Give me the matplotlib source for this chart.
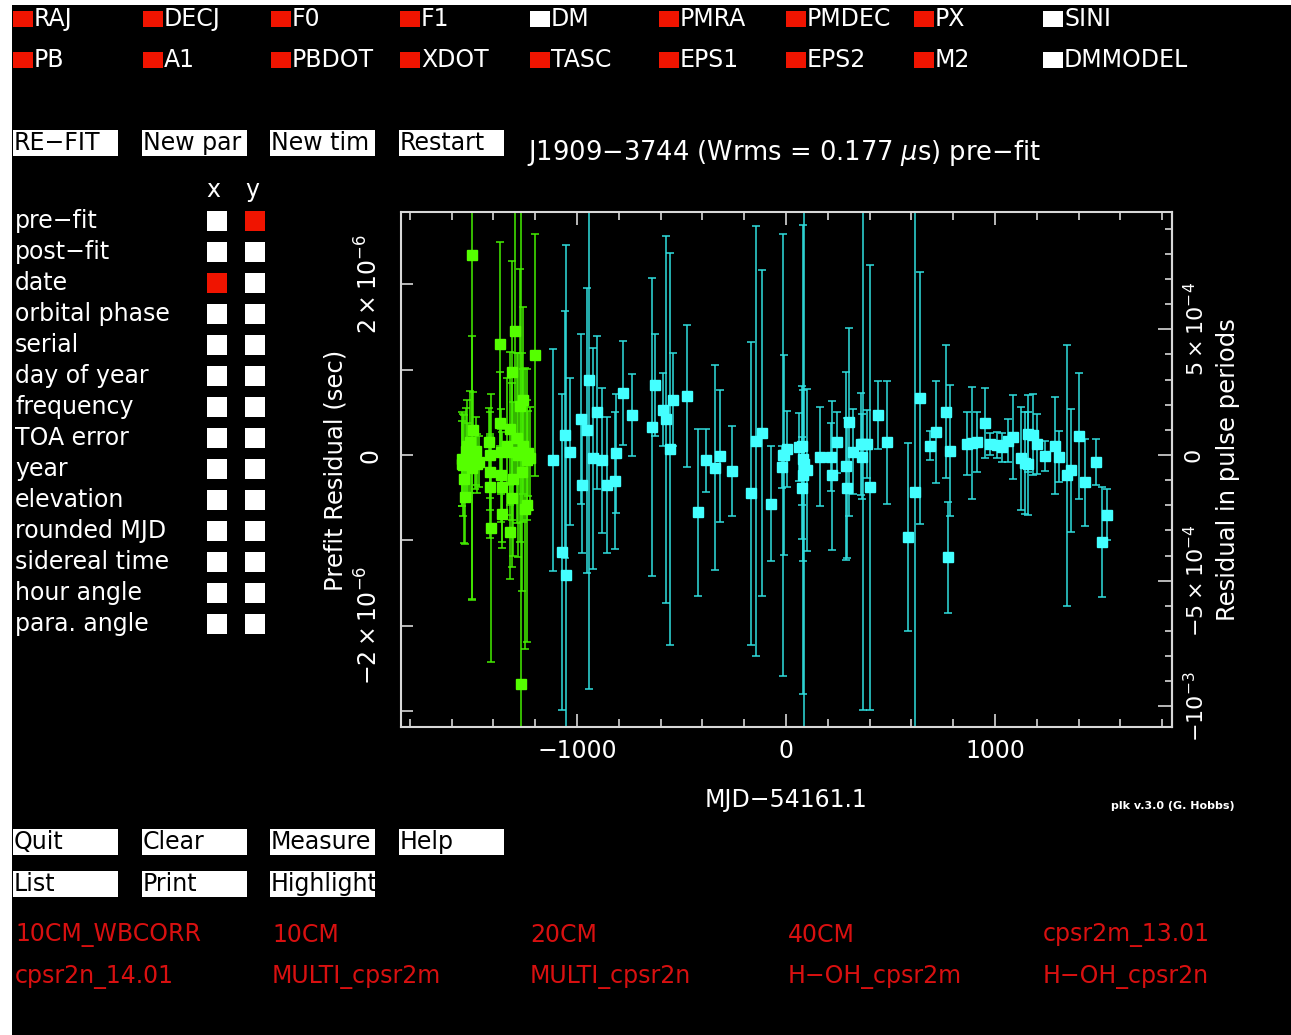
import matplotlib
matplotlib.use('Agg')
import matplotlib.pyplot as plt
from matplotlib.patches import Rectangle
from matplotlib.ticker import FixedLocator, MultipleLocator
import numpy as np

# ---------------------------------------------------------------- data

# fit parameters (1 = fitted, red box; 0 = not fitted, white box)
params_row1 = ['RAJ', 'DECJ', 'F0', 'F1', 'DM', 'PMRA', 'PMDEC', 'PX', 'SINI']
fit_row1 = [1, 1, 1, 1, 0, 1, 1, 1, 0]
params_row2 = ['PB', 'A1', 'PBDOT', 'XDOT', 'TASC', 'EPS1', 'EPS2', 'M2', 'DMMODEL']
fit_row2 = [1, 1, 1, 1, 1, 1, 1, 1, 0]

plot_opts = ['pre−fit', 'post−fit', 'date', 'orbital phase', 'serial', 'day of year',
             'frequency', 'TOA error', 'year', 'elevation', 'rounded MJD',
             'sidereal time', 'hour angle', 'para. angle']
x_choice = 'date'
y_choice = 'pre−fit'

top_buttons = ['RE−FIT', 'New par', 'New tim', 'Restart']
bottom_buttons1 = ['Quit', 'Clear', 'Measure', 'Help']
bottom_buttons2 = ['List', 'Print', 'Highlight']

flags_row1 = ['10CM_WBCORR', '10CM', '20CM', '40CM', 'cpsr2m_13.01']
flags_row2 = ['cpsr2n_14.01', 'MULTI_cpsr2m', 'MULTI_cpsr2n', 'H−OH_cpsr2m', 'H−OH_cpsr2n']

P0 = 0.00294710806   # pulse period (s)

# green group: MJD-54161.1, residual (us), error (us)
g_mjd = [-1552, -1548, -1544, -1540, -1536, -1532, -1528, -1520, -1512, -1504, -1500, -1496,
         -1490, -1484, -1478, -1470, -1420, -1418, -1416, -1414, -1412, -1368, -1366, -1364,
         -1362, -1360, -1358, -1336, -1321, -1321, -1313, -1313, -1313, -1305, -1297, -1289,
         -1281, -1273, -1270, -1265, -1257, -1257, -1249, -1241, -1241, -1233, -1225, -1201]
g_res = [-0.10, -0.05, -0.12, -0.28, -0.49, 0.05, 0.10, -0.08, 0.15, 2.35, -0.15, 0.29,
         -0.05, 0.05, -0.10, -0.08, 0.15, 0.00, -0.20, -0.375, -0.86, 1.30, 0.375, 0.04,
         -0.24, -0.375, -0.69, 0.10, 0.31, -0.90, 0.97, 0.04, -0.51, -0.28, 1.46, 0.20,
         0.00, 0.58, -2.68, -0.20, 0.64, 0.11, -0.63, -0.06, -0.59, 0.02, -0.04, 1.17]
g_err = [0.50, 0.55, 0.60, 0.75, 0.55, 0.50, 0.55, 0.45, 0.60, 4.04, 1.55, 0.45,
         0.35, 0.40, 0.35, 0.30, 0.40, 0.50, 0.45, 0.60, 1.57, 1.20, 0.60, 0.50,
         0.55, 0.65, 0.40, 0.80, 0.90, 0.55, 1.30, 0.80, 0.80, 0.90, 1.70, 1.00,
         1.20, 1.60, 5.60, 1.40, 1.10, 0.90, 1.65, 0.70, 1.60, 0.50, 0.60, 1.42]

# cyan group
c_mjd = [-1113, -1073, -1058, -1053, -1034, -981, -978, -954, -941, -922, -906, -882,
         -858, -818, -813, -782, -738, -643, -627, -587, -574, -555, -539, -472,
         -419, -381, -338, -316, -260, -167, -144, -116, -73, -21, -13, -10,
         6, 64, 75, 75, 80, 85, 83, 99, 163, 214, 219, 243,
         287, 290, 303, 319, 359, 362, 367, 386, 402, 438, 482, 584,
         617, 641, 689, 718, 764, 777, 785, 864, 888, 912, 952, 976,
         1008, 1032, 1064, 1085, 1123, 1144, 1160, 1160, 1184, 1203, 1240, 1287,
         1306, 1346, 1363, 1403, 1431, 1482, 1514, 1538]
c_res = [-0.06, -1.14, 0.24, -1.41, 0.04, 0.42, -0.35, 0.29, 0.88, -0.04, 0.50, -0.06,
         -0.35, -0.30, 0.02, 0.73, 0.47, 0.33, 0.82, 0.53, 0.42, 0.07, 0.65, 0.69,
         -0.67, -0.06, -0.15, -0.01, -0.19, -0.45, 0.16, 0.26, -0.57, -0.14, 0.00, 0.00,
         0.07, 0.09, 0.11, -0.39, -0.05, -0.10, -0.24, -0.18, -0.02, -0.02, -0.24, 0.15,
         -0.13, -0.39, 0.39, 0.04, 0.13, -0.02, 0.13, 0.13, -0.38, 0.47, 0.15, -0.96,
         -0.43, 0.67, 0.11, 0.27, 0.51, -1.20, 0.05, 0.13, 0.14, 0.15, 0.38, 0.13,
         0.12, 0.09, 0.17, 0.21, -0.04, -0.09, 0.25, -0.10, 0.24, 0.13, -0.01, 0.11,
         -0.02, -0.24, -0.18, 0.22, -0.32, -0.08, -1.02, -0.70]
c_err = [1.30, 1.85, 1.45, 3.87, 0.86, 1.00, 0.80, 1.67, 3.62, 1.30, 0.90, 0.85,
         0.80, 0.80, 0.70, 0.61, 0.48, 1.75, 0.60, 0.43, 2.15, 2.30, 0.55, 0.83,
         0.98, 0.37, 1.20, 0.77, 0.53, 1.78, 2.52, 1.91, 0.67, 0.25, 2.59, 1.17,
         0.45, 0.40, 0.70, 0.60, 2.75, 3.40, 1.00, 0.95, 0.58, 0.40, 0.87, 0.36,
         1.10, 0.82, 1.10, 0.50, 0.60, 0.50, 3.12, 0.40, 2.61, 0.40, 0.72, 1.10,
         3.50, 1.48, 0.17, 0.60, 0.78, 0.65, 0.77, 0.37, 0.66, 0.35, 0.41, 0.13,
         0.15, 0.17, 0.25, 0.49, 0.60, 0.60, 0.45, 0.60, 0.48, 0.35, 0.18, 0.57,
         0.30, 1.53, 0.72, 0.74, 0.51, 0.27, 0.64, 0.30]

# ---------------------------------------------------------------- layout helpers

W, H = 1291, 1035
RED = '#f01400'
FLAGRED = '#d81010'
FS = 17

fig = plt.figure(figsize=(W / 100, H / 100), dpi=100, facecolor='white')


def fx(px):
    return px / W


def fy(py):
    return 1 - py / H


def box(x0, y0, x1, y1, color):
    fig.add_artist(Rectangle((fx(x0), fy(y1)), (x1 - x0) / W, (y1 - y0) / H,
                             transform=fig.transFigure, facecolor=color,
                             edgecolor='none', zorder=1))


def label(px, py, s, color='white', size=FS, **kw):
    kw.setdefault('ha', 'left')
    kw.setdefault('va', 'center')
    fig.text(fx(px), fy(py), s, color=color, fontsize=size, zorder=2, **kw)


# black screen
box(12, 5, W, H, 'black')

# parameter boxes at the top
col_x = [13, 143, 271, 400, 530, 659, 786, 914, 1043]
for names, fits, yc in [(params_row1, fit_row1, 19), (params_row2, fit_row2, 60)]:
    for k in range(len(names)):
        x0 = col_x[k]
        box(x0, yc - 8, x0 + 20, yc + 8, RED if fits[k] else 'white')
        label(x0 + 21, yc, names[k])

# buttons
btn_x = [13, 142, 270, 399]


def buttons(names, y0, y1):
    for k in range(len(names)):
        box(btn_x[k], y0, btn_x[k] + 105, y1, 'white')
        label(btn_x[k] + 1, (y0 + y1) / 2, names[k], color='black')


buttons(top_buttons, 130, 156)
buttons(bottom_buttons1, 829, 855)
buttons(bottom_buttons2, 871, 897)

label(527, 153, 'J1909−3744 (Wrms = 0.177 $\\mu$s) pre−fit', size=18.5)

# axis selection panel
label(213, 190, 'x', ha='center')
label(252, 190, 'y', ha='center')
for k in range(len(plot_opts)):
    yc = 221 + 31 * k
    label(15, yc, plot_opts[k])
    box(207, yc - 10, 227, yc + 10, RED if plot_opts[k] == x_choice else 'white')
    box(245, yc - 10, 265, yc + 10, RED if plot_opts[k] == y_choice else 'white')

# flags
flag_x = [15, 272, 530, 788, 1043]
for names, yc in [(flags_row1, 935), (flags_row2, 977)]:
    for k in range(len(names)):
        label(flag_x[k], yc, names[k], color=FLAGRED)

# ---------------------------------------------------------------- residual plot

FRAME = '#d8d8d8'
ax = fig.add_axes([fx(401), fy(727), (1172 - 401) / W, (727 - 212) / H])
ax.set_facecolor('black')
ax.set_zorder(3)

ax.errorbar(g_mjd, np.array(g_res) * 1e-6, yerr=np.array(g_err) * 1e-6, fmt='s',
            color='#44ee00', mfc='#55ff00', mec='#55ff00', ms=6.5, capsize=3.2,
            elinewidth=1.1, capthick=1.1)
ax.errorbar(c_mjd, np.array(c_res) * 1e-6, yerr=np.array(c_err) * 1e-6, fmt='s',
            color='#30dede', mfc='#44ffff', mec='#44ffff', ms=6.5, capsize=3.2,
            elinewidth=1.1, capthick=1.1)

ax.set_xlim(-1842, 1847)
ax.set_ylim(-3.19e-6, 2.85e-6)

for s in ax.spines.values():
    s.set_color(FRAME)
    s.set_linewidth(1.5)

ax.xaxis.set_major_locator(FixedLocator([-1000, 0, 1000]))
ax.xaxis.set_minor_locator(MultipleLocator(200))
ax.set_xticklabels(['−1000', '0', '1000'])
ax.tick_params(axis='x', which='both', direction='in', top=True, bottom=True,
               color=FRAME, width=1.2, labelcolor='white', labelsize=FS, pad=9)
ax.tick_params(axis='x', which='major', length=9.5)
ax.tick_params(axis='x', which='minor', length=5.8)

ax.set_yticks(np.arange(-3, 3) * 1e-6)
ax.set_yticklabels(['', '$-2\\times10^{-6}$', '', '0', '', '$2\\times10^{-6}$'])
ax.tick_params(axis='y', which='major', direction='in', left=True, right=False,
               length=8.6, width=1.2, color=FRAME, labelcolor='white',
               labelsize=FS, pad=13)
for t in ax.get_yticklabels():
    t.set_rotation(90)
    t.set_va('center')

sec = ax.secondary_yaxis('right', functions=(lambda s: s / P0, lambda p: p * P0))
sec.set_yticks([-1e-3, -5e-4, 0, 5e-4])
sec.set_yticklabels(['$-10^{-3}$', '$-5\\times10^{-4}$', '0', '$5\\times10^{-4}$'])
sec.yaxis.set_minor_locator(MultipleLocator(1e-4))
sec.spines['right'].set_color(FRAME)
sec.spines['right'].set_linewidth(1.5)
sec.tick_params(which='both', direction='in', color=FRAME, width=1.2,
                labelcolor='white', labelsize=16, pad=8)
sec.tick_params(which='major', length=10)
sec.tick_params(which='minor', length=5)
for t in sec.get_yticklabels():
    t.set_rotation(90)
    t.set_va('center')

label(336, 470, 'Prefit Residual (sec)', ha='center', rotation=90, size=17.5)
label(1228, 470, 'Residual in pulse periods', ha='center', rotation=90, size=17.5)
label(786, 800, 'MJD−54161.1', ha='center')
label(1173, 806, 'plk v.3.0 (G. Hobbs)', ha='center', size=8, fontweight='bold')

fig.savefig('out.png', dpi=100, facecolor=fig.get_facecolor())
